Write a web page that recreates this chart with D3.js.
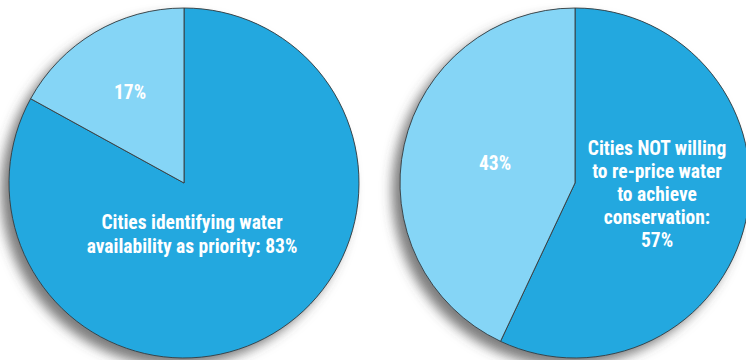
<!DOCTYPE html>
<html>
<head>
<meta charset="utf-8">
<script src="https://cdn.jsdelivr.net/npm/d3@7"></script>
<style>
  body { margin: 0; background: #fff; }
  svg { display: block; }
  .lbl { font-family: "Liberation Sans Narrow", "Roboto Condensed", "Arial Narrow", sans-serif; font-weight: bold; fill: #fff; font-stretch: condensed; }
</style>
</head>
<body>
<svg id="chart"></svg>
<script>
// data
const categories = ["yes", "no"];
const leftValues = [83, 17];
const rightValues = [57, 43];
const leftLabels = [["Cities identifying water", "availability as priority: 83%"], ["17%"]];
const rightLabels = [["Cities NOT willing", "to re-price water", "to achieve", "conservation:", "57%"], ["43%"]];

const width = 746;
const height = 360;
const radius = 175;
const colors = d3.scaleOrdinal().domain(categories).range(["#23a8df", "#85d5f6"]);

const svg = d3.select("#chart").attr("width", width).attr("height", height);

// drop shadow
const defs = svg.append("defs");
const filter = defs.append("filter").attr("id", "shadow")
    .attr("x", "-20%").attr("y", "-20%").attr("width", "140%").attr("height", "140%");
filter.append("feDropShadow")
    .attr("dx", -8).attr("dy", 8).attr("stdDeviation", 6)
    .attr("flood-color", "#444").attr("flood-opacity", 0.7);

const pie = d3.pie().sort(null);
const arc = d3.arc().innerRadius(0).outerRadius(radius);

function drawPie(cx, cy, values, labels, labelPos) {
    const g = svg.append("g").attr("transform", `translate(${cx},${cy})`);
    const arcs = pie(values);

    g.append("circle").attr("r", radius).attr("fill", "#23a8df").attr("filter", "url(#shadow)");

    g.selectAll("path")
        .data(arcs)
        .enter()
        .append("path")
        .attr("d", arc)
        .attr("fill", (d, i) => colors(categories[i]))
        .attr("stroke", "#3a3a3a")
        .attr("stroke-width", 0.9)
        .attr("stroke-linejoin", "round");

    labels.forEach((lines, i) => {
        const [lx, ly, gap] = labelPos[i];
        const t = g.append("text").attr("class", "lbl")
            .attr("text-anchor", "middle")
            .attr("font-size", 19.5);
        lines.forEach((line, j) => {
            t.append("tspan").attr("x", lx).attr("y", ly + j * gap).text(line);
        });
    });
}

drawPie(184, 183, leftValues, leftLabels, [[8, 46, 24], [-54, -84, 0]]);
drawPie(575, 183, rightValues, rightLabels, [[82, -28, 23], [-80, -13, 0]]);
</script>
</body>
</html>
